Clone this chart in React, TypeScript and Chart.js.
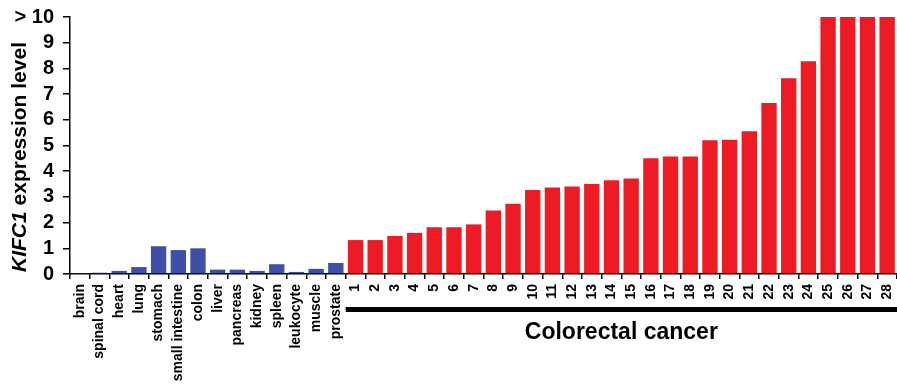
import React, { useEffect, useRef } from "react";
import { Chart, registerables } from "chart.js";

Chart.register(...registerables);

const normalTissues = [
  "brain", "spinal cord", "heart", "lung", "stomach", "small intestine", "colon",
  "liver", "pancreas", "kidney", "spleen", "leukocyte", "muscle", "prostate",
];
const normalValues = [0.02, 0.05, 0.12, 0.27, 1.08, 0.93, 1.0, 0.17, 0.17, 0.12, 0.38, 0.08, 0.2, 0.43];

const cancerLabels = [
  "1", "2", "3", "4", "5", "6", "7", "8", "9", "10", "11", "12", "13", "14",
  "15", "16", "17", "18", "19", "20", "21", "22", "23", "24", "25", "26", "27", "28",
];
const cancerValues = [
  1.32, 1.32, 1.48, 1.6, 1.82, 1.82, 1.93, 2.47, 2.73, 3.27, 3.37, 3.4, 3.5, 3.65,
  3.72, 4.5, 4.57, 4.57, 5.2, 5.22, 5.55, 6.65, 7.62, 8.28, 10, 10, 10, 10,
];

const yTicks = [0, 1, 2, 3, 4, 5, 6, 7, 8, 9, 10];
const yTopLabel = "> 10";
const groupLabel = "Colorectal cancer";
const yTitleItalic = "KIFC1";
const yTitleRest = " expression level";

const BLUE = "#3f4fa8";
const RED = "#ed1c24";
const FONT = "'Liberation Sans', Arial, sans-serif";

export default function App() {
  const ref = useRef<HTMLCanvasElement | null>(null);

  useEffect(() => {
    document.body.style.margin = "0";
    const labels = [...normalTissues, ...cancerLabels];
    const values = [...normalValues, ...cancerValues];
    const colors = [...normalValues.map(() => BLUE), ...cancerValues.map(() => RED)];

    const annot = {
      id: "annot",
      afterDraw(chart: any) {
        const ctx = chart.ctx;
        const x = chart.scales.x;
        const n0 = normalTissues.length;
        const catW = x.getPixelForValue(1) - x.getPixelForValue(0);
        const left = x.getPixelForValue(n0) - catW / 2;
        const right = chart.chartArea.right;
        ctx.save();
        ctx.fillStyle = "#000";
        ctx.fillRect(left, 307, right - left, 5);
        ctx.font = `bold 23px ${FONT}`;
        ctx.textAlign = "center";
        ctx.textBaseline = "middle";
        ctx.fillText(groupLabel, (left + right) / 2, 333);
        ctx.restore();

        // y title
        ctx.save();
        ctx.translate(20, 157);
        ctx.rotate(-Math.PI / 2);
        ctx.fillStyle = "#000";
        ctx.textBaseline = "middle";
        ctx.textAlign = "left";
        const fi = `italic bold 21px ${FONT}`;
        const fb = `bold 21px ${FONT}`;
        ctx.font = fi;
        const w1 = ctx.measureText(yTitleItalic).width;
        ctx.font = fb;
        const w2 = ctx.measureText(yTitleRest).width;
        const start = -(w1 + w2) / 2;
        ctx.font = fi;
        ctx.fillText(yTitleItalic, start, 0);
        ctx.font = fb;
        ctx.fillText(yTitleRest, start + w1, 0);
        ctx.restore();
      },
    };

    const chart = new Chart(ref.current as HTMLCanvasElement, {
      type: "bar",
      data: {
        labels,
        datasets: [
          {
            data: values,
            backgroundColor: colors,
            borderWidth: 0,
            barPercentage: 0.78,
            categoryPercentage: 1,
          },
        ],
      },
      options: {
        animation: false,
        responsive: true,
        maintainAspectRatio: false,
        layout: { padding: { top: 17, right: 0, bottom: 0, left: 0 } },
        plugins: { legend: { display: false }, tooltip: { enabled: false } },
        scales: {
          x: {
            grid: {
              drawOnChartArea: false,
              drawTicks: true,
              tickLength: 5,
              tickColor: "#000",
              lineWidth: 1.5,
              offset: true,
            },
            border: { color: "#000", width: 1.5 },
            ticks: {
              autoSkip: false,
              maxRotation: 90,
              minRotation: 90,
              padding: 5,
              color: "#000",
              font: { family: FONT, size: 14, weight: "bold" },
            },
            afterFit: (s: any) => {
              s.height = 113;
              s.paddingLeft = 0;
              s.paddingRight = 0;
            },
          },
          y: {
            min: 0,
            max: 10,
            afterBuildTicks: (s: any) => {
              s.ticks = yTicks.map((v) => ({ value: v }));
            },
            grid: {
              drawOnChartArea: false,
              drawTicks: true,
              tickLength: 7,
              tickColor: "#000",
              lineWidth: 1.5,
            },
            border: { color: "#000", width: 1.5 },
            ticks: {
              autoSkip: false,
              padding: 9,
              color: "#000",
              font: { family: FONT, size: 20, weight: "bold" },
              callback: (v: any) => (Number(v) === 10 ? yTopLabel : String(v)),
            },
            afterFit: (s: any) => {
              s.width = 70;
              s.paddingTop = 0;
              s.paddingBottom = 0;
            },
          },
        },
      },
      plugins: [annot],
    });
    return () => chart.destroy();
  }, []);

  return (
    <div style={{ position: "absolute", left: 0, top: 0, width: 897, height: 387 }}>
      <canvas ref={ref} />
    </div>
  );
}
